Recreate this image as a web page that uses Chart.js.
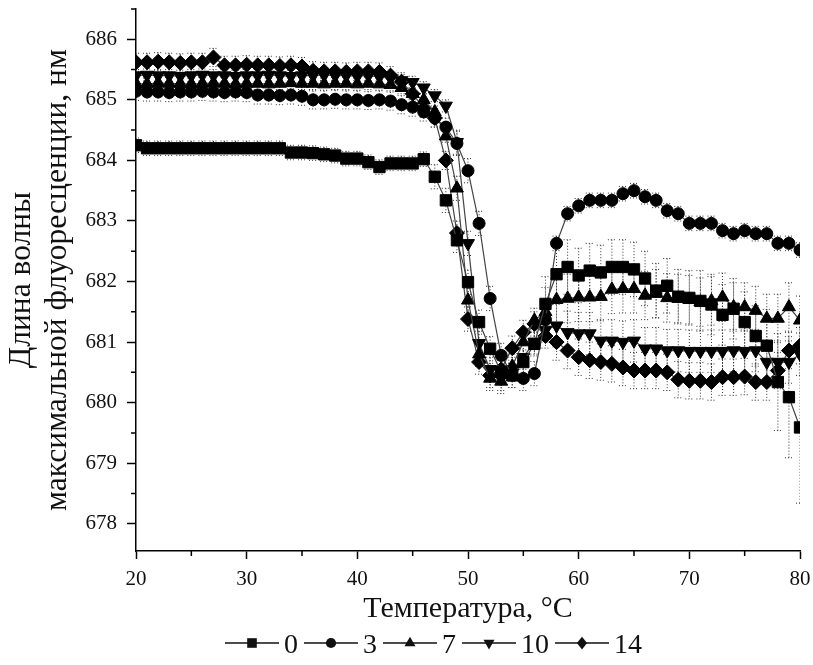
<!DOCTYPE html>
<html>
<head>
<meta charset="utf-8">
<script src="https://cdn.jsdelivr.net/npm/chart.js@4.4.0/dist/chart.umd.min.js"></script>
<style>
  html, body { margin: 0; padding: 0; background: #fff; }
</style>
</head>
<body>
<canvas id="chart" width="813" height="665"></canvas>
<script>
// temperatures, °C
const temps = [20,21,22,23,24,25,26,27,28,29,30,31,32,33,34,35,36,37,38,39,
  40,41,42,43,44,45,46,47,48,49,50,51,52,53,54,55,56,57,58,59,
  60,61,62,63,64,65,66,67,68,69,70,71,72,73,74,75,76,77,78,79,80];

// series labels (legend)
const seriesLabels = ['0', '3', '7', '10', '14'];

// wavelength, nm
const s0 = [684.25,684.2,684.2,684.2,684.2,684.2,684.2,684.2,684.2,684.2,
  684.2,684.2,684.2,684.2,684.13,684.13,684.12,684.1,684.08,684.03,
  684.03,683.97,683.89,683.95,683.95,683.95,684.02,683.73,683.34,682.68,
  681.99,681.33,680.89,680.5,680.45,680.67,680.97,681.63,682.12,682.24,
  682.1,682.18,682.15,682.24,682.24,682.2,682.05,681.85,681.93,681.75,
  681.73,681.68,681.62,681.45,681.55,681.33,681.1,680.94,680.34,680.09,
  679.59];
const s3 = [685.14,685.13,685.13,685.12,685.13,685.13,685.14,685.13,685.12,685.13,
  685.12,685.08,685.08,685.07,685.08,685.06,685.0,685.0,685.01,685.0,
  685.0,684.99,685.0,684.98,684.92,684.88,684.8,684.7,684.55,684.28,
  683.83,682.96,681.72,680.78,680.45,680.4,680.48,681.37,682.63,683.12,
  683.25,683.34,683.34,683.34,683.45,683.5,683.4,683.34,683.17,683.12,
  682.96,682.96,682.96,682.84,682.79,682.84,682.79,682.79,682.63,682.63,
  682.52];
const s7 = [685.27,685.26,685.28,685.27,685.27,685.26,685.27,685.28,685.27,685.26,
  685.27,685.27,685.26,685.27,685.28,685.27,685.27,685.26,685.27,685.27,
  685.26,685.27,685.26,685.25,685.2,685.1,685.0,684.8,684.4,683.54,
  681.69,680.8,680.4,680.35,680.6,681.0,681.36,681.5,681.7,681.72,
  681.74,681.74,681.75,681.87,681.88,681.88,681.77,681.8,681.73,681.72,
  681.7,681.66,681.68,681.74,681.58,681.58,681.52,681.39,681.39,681.58,
  681.36];
const s10 = [685.4,685.41,685.4,685.4,685.39,685.4,685.41,685.4,685.4,685.39,
  685.4,685.4,685.41,685.4,685.39,685.4,685.4,685.41,685.4,685.4,
  685.39,685.4,685.38,685.36,685.32,685.29,685.2,685.07,684.9,684.3,
  682.63,680.98,680.55,680.4,680.55,680.75,681.0,681.2,681.27,681.16,
  681.14,681.14,681.02,681.02,681.0,681.02,680.89,680.89,680.86,680.86,
  680.85,680.85,680.85,680.85,680.86,680.85,680.86,680.67,680.67,680.67,
  680.8];
const s14 = [685.62,685.62,685.63,685.62,685.61,685.62,685.62,685.7,685.57,685.57,
  685.58,685.57,685.57,685.56,685.57,685.55,685.48,685.47,685.47,685.46,
  685.47,685.47,685.46,685.4,685.3,685.1,684.86,684.7,684.0,682.8,
  681.38,680.67,680.45,680.55,680.9,681.16,681.3,681.1,681.0,680.86,
  680.75,680.7,680.67,680.64,680.58,680.53,680.53,680.53,680.5,680.38,
  680.36,680.36,680.34,680.42,680.42,680.43,680.34,680.34,680.53,680.86,
  680.94];

// error bars (± nm)
const e0 = [0.12,0.12,0.12,0.12,0.12,0.12,0.12,0.12,0.12,0.12,
  0.12,0.12,0.12,0.12,0.12,0.12,0.12,0.12,0.12,0.12,
  0.12,0.12,0.12,0.12,0.12,0.12,0.12,0.2,0.2,0.2,
  0.2,0.2,0.2,0.2,0.2,0.2,0.2,0.45,0.45,0.45,
  0.45,0.45,0.45,0.45,0.45,0.45,0.45,0.45,0.45,0.45,
  0.45,0.5,0.5,0.5,0.5,0.5,0.5,0.6,0.8,1.0,
  1.25];
const e3 = [0.15,0.15,0.15,0.15,0.15,0.15,0.15,0.15,0.15,0.15,
  0.15,0.15,0.15,0.15,0.15,0.15,0.15,0.15,0.15,0.15,
  0.15,0.15,0.15,0.15,0.15,0.15,0.15,0.15,0.15,0.2,
  0.2,0.2,0.2,0.2,0.2,0.2,0.2,0.2,0.12,0.12,
  0.12,0.12,0.12,0.12,0.12,0.12,0.12,0.12,0.12,0.12,
  0.12,0.12,0.12,0.12,0.12,0.12,0.12,0.12,0.12,0.12,
  0.12];
const e7 = [0.1,0.1,0.1,0.1,0.1,0.1,0.1,0.1,0.1,0.1,
  0.1,0.1,0.1,0.1,0.1,0.1,0.1,0.1,0.1,0.1,
  0.1,0.1,0.1,0.1,0.1,0.1,0.1,0.1,0.1,0.2,
  0.2,0.2,0.2,0.2,0.2,0.2,0.2,0.4,0.4,0.4,
  0.4,0.4,0.4,0.4,0.4,0.4,0.4,0.4,0.4,0.4,
  0.4,0.4,0.4,0.4,0.4,0.4,0.4,0.4,0.4,0.4,
  0.4];
const e10 = [0.1,0.1,0.1,0.1,0.1,0.1,0.1,0.1,0.1,0.1,
  0.1,0.1,0.1,0.1,0.1,0.1,0.1,0.1,0.1,0.1,
  0.1,0.1,0.1,0.1,0.1,0.1,0.1,0.1,0.1,0.2,
  0.2,0.2,0.2,0.2,0.2,0.2,0.2,0.2,0.35,0.35,
  0.35,0.35,0.35,0.35,0.35,0.35,0.35,0.35,0.35,0.35,
  0.35,0.35,0.35,0.35,0.35,0.35,0.35,0.35,0.35,0.35,
  0.35];
const e14 = [0.15,0.15,0.15,0.15,0.15,0.15,0.15,0.15,0.15,0.15,
  0.15,0.15,0.15,0.15,0.15,0.15,0.15,0.15,0.15,0.15,
  0.15,0.15,0.15,0.15,0.15,0.15,0.15,0.15,0.15,0.2,
  0.2,0.2,0.2,0.2,0.2,0.2,0.2,0.2,0.3,0.3,
  0.3,0.3,0.3,0.3,0.3,0.3,0.3,0.3,0.3,0.3,
  0.3,0.3,0.3,0.3,0.3,0.3,0.3,0.3,0.3,0.3,
  0.3];

// tick values
const xTicks = [20, 30, 40, 50, 60, 70, 80];
const xMinor = [25, 35, 45, 55, 65, 75];
const yTicks = [678, 679, 680, 681, 682, 683, 684, 685, 686];
const yMinor = [678.5, 679.5, 680.5, 681.5, 682.5, 683.5, 684.5, 685.5, 686.5];

const serif = "'Liberation Serif', 'Times New Roman', serif";
const seriesValues = [s0, s3, s7, s10, s14];
const seriesErrors = [e0, e3, e7, e10, e14];
const markers = [
  { style: 'rect', radius: 8, rotation: 0 },
  { style: 'circle', radius: 6, rotation: 0 },
  { style: 'triangle', radius: 7.5, rotation: 0 },
  { style: 'triangle', radius: 7.5, rotation: 180 },
  { style: 'rectRot', radius: 7.5, rotation: 0 }
];

// dotted error bars, drawn under the markers
const errorBars = {
  id: 'errorBars',
  beforeDatasetsDraw(chart) {
    const { ctx, chartArea, scales: { y } } = chart;
    ctx.save();
    ctx.beginPath();
    ctx.rect(chartArea.left, chartArea.top, chartArea.width, chartArea.height);
    ctx.clip();
    ctx.strokeStyle = '#333';
    ctx.lineWidth = 1;
    ctx.setLineDash([1, 2]);
    chart.data.datasets.forEach((ds, i) => {
      const meta = chart.getDatasetMeta(i);
      meta.data.forEach((pt, j) => {
        const v = ds.data[j].y;
        const err = ds.errs[j];
        const top = y.getPixelForValue(v + err);
        const bot = y.getPixelForValue(v - err);
        ctx.beginPath();
        ctx.moveTo(pt.x, top); ctx.lineTo(pt.x, bot);
        ctx.moveTo(pt.x - 4, top); ctx.lineTo(pt.x + 4, top);
        ctx.moveTo(pt.x - 4, bot); ctx.lineTo(pt.x + 4, bot);
        ctx.stroke();
      });
    });
    ctx.restore();
  }
};

// minor tick marks
const minorTicks = {
  id: 'minorTicks',
  afterDraw(chart) {
    const { ctx, chartArea, scales: { x, y } } = chart;
    ctx.save();
    ctx.strokeStyle = '#000';
    ctx.lineWidth = 1.5;
    ctx.beginPath();
    xMinor.forEach(v => {
      const px = x.getPixelForValue(v);
      ctx.moveTo(px, chartArea.bottom); ctx.lineTo(px, chartArea.bottom + 5);
    });
    yMinor.forEach(v => {
      const py = y.getPixelForValue(v);
      ctx.moveTo(chartArea.left, py); ctx.lineTo(chartArea.left - 5, py);
    });
    ctx.stroke();
    ctx.restore();
  }
};

function drawMarker(ctx, m, x, y) {
  const r = m.radius;
  ctx.beginPath();
  if (m.style === 'rect') {
    const h = r * Math.SQRT1_2;
    ctx.rect(x - h, y - h, 2 * h, 2 * h);
  } else if (m.style === 'circle') {
    ctx.arc(x, y, r, 0, Math.PI * 2);
  } else if (m.style === 'rectRot') {
    ctx.moveTo(x, y - r); ctx.lineTo(x + r * 0.8, y); ctx.lineTo(x, y + r); ctx.lineTo(x - r * 0.8, y);
    ctx.closePath();
  } else {
    const s = m.rotation ? -1 : 1;
    const w = r * Math.sin(Math.PI / 3);
    ctx.moveTo(x, y - s * r);
    ctx.lineTo(x + w, y + s * r / 2);
    ctx.lineTo(x - w, y + s * r / 2);
    ctx.closePath();
  }
  ctx.fill();
}

// legend line: —■— 0—●— 3 ...
const lineLegend = {
  id: 'lineLegend',
  afterDraw(chart) {
    const { ctx } = chart;
    const y = 643;
    let x = 225;
    ctx.save();
    ctx.font = '28px ' + serif;
    ctx.textBaseline = 'middle';
    ctx.fillStyle = '#111';
    ctx.strokeStyle = '#111';
    ctx.lineWidth = 1.5;
    seriesLabels.forEach((lbl, i) => {
      ctx.beginPath();
      ctx.moveTo(x, y); ctx.lineTo(x + 54, y);
      ctx.stroke();
      drawMarker(ctx, { ...markers[i], radius: markers[i].radius * 0.85 }, x + 27, y);
      ctx.fillText(lbl, x + 59, y + 3);
      x += 59 + ctx.measureText(lbl).width + 6;
    });
    ctx.restore();
  }
};

const datasets = seriesValues.map((vals, i) => ({
  label: seriesLabels[i],
  data: temps.map((t, k) => ({ x: t, y: vals[k] })),
  errs: seriesErrors[i],
  borderColor: '#444',
  borderWidth: 1.2,
  backgroundColor: '#000',
  pointStyle: markers[i].style,
  pointRadius: markers[i].radius,
  pointRotation: markers[i].rotation,
  pointBackgroundColor: '#000',
  pointBorderColor: '#000',
  pointBorderWidth: 1,
  tension: 0,
  fill: false,
  clip: 0
}));

new Chart(document.getElementById('chart'), {
  type: 'line',
  data: { datasets },
  options: {
    responsive: false,
    animation: false,
    layout: { padding: { top: 9, right: 13, bottom: 35, left: 0 } },
    plugins: { legend: { display: false }, tooltip: { enabled: false } },
    scales: {
      x: {
        type: 'linear',
        min: 20,
        max: 80,
        afterBuildTicks: s => { s.ticks = xTicks.map(v => ({ value: v })); },
        afterFit: s => { s.height = 79; s.paddingLeft = 0; s.paddingRight = 0; },
        grid: { drawOnChartArea: false, drawTicks: true, tickLength: 8, tickColor: '#000', tickWidth: 1.5 },
        border: { display: true, color: '#000', width: 1.5 },
        ticks: { color: '#111', font: { family: serif, size: 21 }, padding: 8, maxRotation: 0, autoSkip: false },
        title: {
          display: true,
          text: 'Температура, °C',
          color: '#111',
          font: { family: serif, size: 30 },
          padding: { top: 0, bottom: 3 }
        }
      },
      y: {
        type: 'linear',
        min: 677.55,
        max: 686.5,
        afterBuildTicks: s => { s.ticks = yTicks.map(v => ({ value: v })); },
        afterFit: s => { s.width = 136; s.paddingTop = 0; s.paddingBottom = 0; },
        grid: { drawOnChartArea: false, drawTicks: true, tickLength: 9, tickColor: '#000', tickWidth: 1.5 },
        border: { display: true, color: '#000', width: 1.5 },
        ticks: { color: '#111', font: { family: serif, size: 21 }, padding: 10 },
        title: {
          display: true,
          text: ['Длина волны', 'максимальной флуоресценции, нм'],
          color: '#111',
          font: { family: serif, size: 31.5, lineHeight: 1.13 },
          padding: { top: 4, bottom: 0 }
        }
      }
    }
  },
  plugins: [errorBars, minorTicks, lineLegend]
});
</script>
</body>
</html>
